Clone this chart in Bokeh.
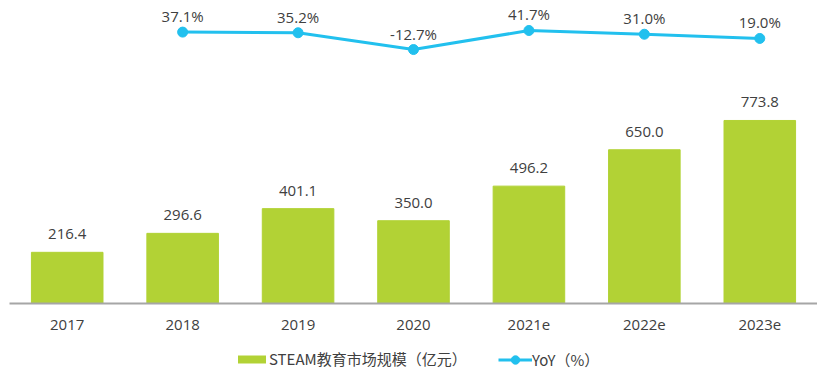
from bokeh.plotting import figure
from bokeh.layouts import column
from bokeh.models import Range1d, Legend, LegendItem, ColumnDataSource
from bokeh.core.properties import value
from bokeh.embed import file_html
from bokeh.resources import INLINE

years = ["2017", "2018", "2019", "2020", "2021e", "2022e", "2023e"]
market = [216.4, 296.6, 401.1, 350.0, 496.2, 650.0, 773.8]
yoy_years = ["2018", "2019", "2020", "2021e", "2022e", "2023e"]
yoy = [37.1, 35.2, -12.7, 41.7, 31.0, 19.0]

GREEN = "#B2D235"
CYAN = "#22C0EE"
TXT = "#404040"
NUM_FONT = "Open Sans"
CJK_FONT = "Noto Sans CJK SC"

bar_src = ColumnDataSource(dict(year=years, market=market,
                                lbl=[f"{v:.1f}" for v in market]))
yoy_src = ColumnDataSource(dict(year=yoy_years, yoy=yoy,
                                lbl=[f"{v:.1f}%" for v in yoy]))

p = figure(x_range=years, y_range=Range1d(0, 1281), width=817, height=340,
           output_backend="svg", toolbar_location=None, y_axis_location=None,
           min_border_left=9, min_border_right=0, min_border_top=0,
           min_border_bottom=37, outline_line_color=None)
p.extra_y_ranges = {"yoy": Range1d(-738.3, 127.4)}
p.grid.visible = False

bars = p.vbar(x="year", top="market", width=0.62, source=bar_src,
              fill_color=GREEN, line_color=GREEN)
p.text(x="year", y="market", text="lbl", source=bar_src,
       text_align="center", text_baseline="bottom", y_offset=-13,
       text_font=value(NUM_FONT), text_font_size="15px", text_color=TXT)

ln = p.line(x="year", y="yoy", source=yoy_src, y_range_name="yoy",
            line_color=CYAN, line_width=3)
sc = p.scatter(x="year", y="yoy", source=yoy_src, y_range_name="yoy",
               size=10, fill_color=CYAN, line_color=CYAN)
p.text(x="year", y="yoy", text="lbl", source=yoy_src, y_range_name="yoy",
       text_align="center", text_baseline="bottom", y_offset=-6,
       text_font=value(NUM_FONT), text_font_size="15px", text_color=TXT)

ax = p.xaxis[0]
ax.axis_line_color = "#A6A6A6"
ax.axis_line_width = 2
ax.major_tick_line_color = None
ax.minor_tick_line_color = None
ax.major_label_standoff = 10
ax.major_label_text_font = NUM_FONT
ax.major_label_text_font_size = "15px"
ax.major_label_text_color = TXT

# legend strip below the chart: same data, drawn with ranges that keep the
# marks out of view so that only the legend shows
lf = figure(width=817, height=32, x_range=years, y_range=Range1d(5000, 5001),
            output_backend="svg", toolbar_location=None,
            x_axis_location=None, y_axis_location=None,
            min_border_left=0, min_border_right=0, min_border_top=0,
            min_border_bottom=0, outline_line_color=None)
lf.grid.visible = False
lbar = lf.vbar(x="year", top="market", width=0.62, source=bar_src,
               fill_color=GREEN, line_color=None)
lln = lf.line(x="year", y="yoy", source=yoy_src,
              line_color=CYAN, line_width=3)
lsc = lf.scatter(x="year", y="yoy", source=yoy_src,
                 size=10, fill_color=CYAN, line_color=CYAN)

common = dict(orientation="horizontal", border_line_color=None,
              background_fill_alpha=0, label_text_font=CJK_FONT,
              label_text_font_size="15px", label_text_color=TXT,
              label_standoff=0, padding=0, margin=0, label_height=18)
legend1 = Legend(items=[
    LegendItem(label="STEAM教育市场规模（亿元）", renderers=[lbar]),
], location=(225, 3), glyph_width=35, glyph_height=10, **common)
legend2 = Legend(items=[
    LegendItem(label="YoY（%）", renderers=[lln, lsc]),
], location=(489, 2), glyph_width=34, glyph_height=21, **common)
lf.add_layout(legend1, "center")
lf.add_layout(legend2, "center")

layout = column(p, lf, spacing=0)
open("out.html", "w").write(file_html(layout, INLINE))
